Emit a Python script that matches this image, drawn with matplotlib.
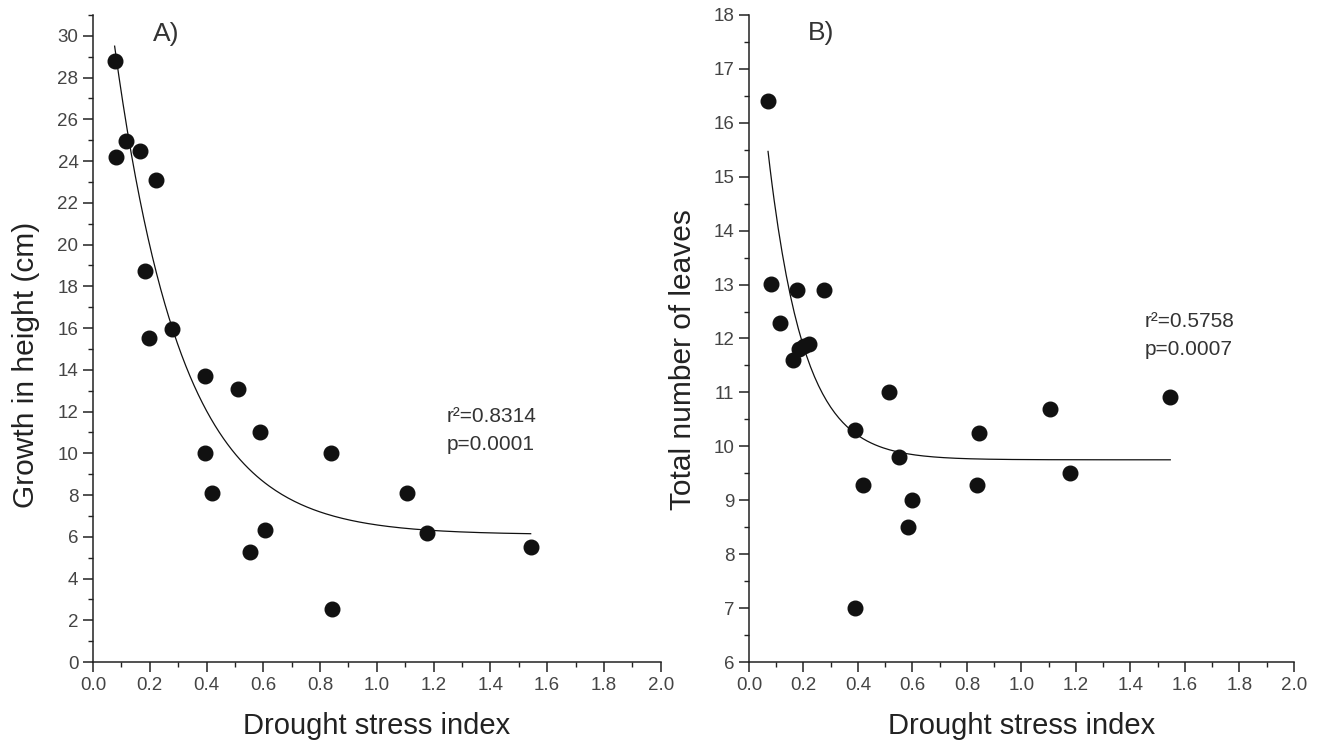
import numpy as np
import matplotlib
matplotlib.use("Agg")
from matplotlib import pyplot as plt
from matplotlib.ticker import MultipleLocator, FormatStrFormatter

plt.rcParams['font.family'] = ['Liberation Sans', 'DejaVu Sans']

# drought stress index vs growth in height (panel A)
dsi_a = [0.076, 0.081, 0.117, 0.167, 0.223, 0.184, 0.197, 0.278, 0.393, 0.393,
         0.419, 0.511, 0.587, 0.605, 0.553, 0.840, 0.843, 1.105, 1.176, 1.542]
height = [28.8, 24.2, 24.95, 24.5, 23.1, 18.75, 15.5, 15.95, 13.7, 10.0,
          8.1, 13.1, 11.0, 6.33, 5.27, 10.0, 2.52, 8.1, 6.16, 5.5]

# drought stress index vs number of leaves (panel B)
dsi_b = [0.070, 0.080, 0.114, 0.177, 0.275, 0.163, 0.185, 0.202, 0.219, 0.514,
         0.388, 0.417, 0.550, 0.599, 0.582, 0.389, 0.844, 0.838, 1.103, 1.177, 1.546]
leaves = [16.4, 13.01, 12.29, 12.9, 12.9, 11.61, 11.81, 11.86, 11.9, 11.01,
          10.3, 9.29, 9.81, 9.0, 8.5, 7.0, 10.25, 9.29, 10.7, 9.51, 10.91]

# exponential decay fits y = y0 + A*exp(-x/t), parameters
fit_a = dict(y0=6.1, A=32.3, t=0.236)
fit_b = dict(y0=9.75, A=9.8, t=0.13)

stats_a = ["r\u00b2=0.8314", "p=0.0001"]
stats_b = ["r\u00b2=0.5758", "p=0.0007"]


def fit_curve(x, p):
    xx = np.linspace(min(x), max(x), 200)
    return xx, p['y0'] + p['A'] * np.exp(-xx / p['t'])


def style(ax, ylo, yhi, major, minor):
    ax.set_xlim(0, 2.0)
    ax.set_ylim(ylo, yhi)
    ax.spines['top'].set_visible(False)
    ax.spines['right'].set_visible(False)
    for s in ('left', 'bottom'):
        ax.spines[s].set_linewidth(1.1)
        ax.spines[s].set_color('#222222')
    ax.xaxis.set_major_locator(MultipleLocator(0.2))
    ax.xaxis.set_minor_locator(MultipleLocator(0.1))
    ax.xaxis.set_major_formatter(FormatStrFormatter('%.1f'))
    ax.yaxis.set_major_locator(MultipleLocator(major))
    ax.yaxis.set_minor_locator(MultipleLocator(minor))
    ax.tick_params(which='major', length=7, width=1.1, labelsize=13.5,
                   labelcolor='#444444', color='#222222', direction='out')
    ax.tick_params(which='minor', length=3.6, width=1.0, color='#222222',
                   direction='out')
    ax.set_xlabel('Drought stress index', fontsize=21, color='#222222')
    ax.xaxis.set_label_coords(0.5, -0.078)


fig = plt.figure(figsize=(13.2, 7.46), dpi=100)
ax1 = fig.add_axes([0.0705, 0.1126, 0.430, 0.8673])
ax2 = fig.add_axes([0.5674, 0.1126, 0.4129, 0.8673])

# panel A
style(ax1, 0, 31, 2, 1)
ax1.set_yticks(np.arange(0, 31, 2))
xx, yy = fit_curve(dsi_a, fit_a)
ax1.plot(xx, yy, color='#111111', lw=0.9)
ax1.plot(dsi_a, height, 'o', color='#111111', ms=10.5, zorder=3)
ax1.set_ylabel('Growth in height (cm)', fontsize=21.5, color='#222222')
ax1.yaxis.set_label_coords(-0.093, 0.459)
ax1.text(0.211, 30.1, 'A)', fontsize=19, color='#333333', va='center')
ax1.text(1.246, 11.74, stats_a[0], fontsize=15, color='#333333', va='center')
ax1.text(1.246, 10.4, stats_a[1], fontsize=15, color='#333333', va='center')

# panel B
style(ax2, 6, 18, 1, 0.5)
xx, yy = fit_curve(dsi_b, fit_b)
ax2.plot(xx, yy, color='#111111', lw=0.9)
ax2.plot(dsi_b, leaves, 'o', color='#111111', ms=10.5, zorder=3)
ax2.set_ylabel('Total number of leaves', fontsize=21.5, color='#222222')
ax2.yaxis.set_label_coords(-0.095, 0.468)
ax2.text(0.216, 17.67, 'B)', fontsize=19, color='#333333', va='center')
ax2.text(1.453, 12.31, stats_b[0], fontsize=15, color='#333333', va='center')
ax2.text(1.453, 11.79, stats_b[1], fontsize=15, color='#333333', va='center')

fig.savefig('out.png', dpi=100)
